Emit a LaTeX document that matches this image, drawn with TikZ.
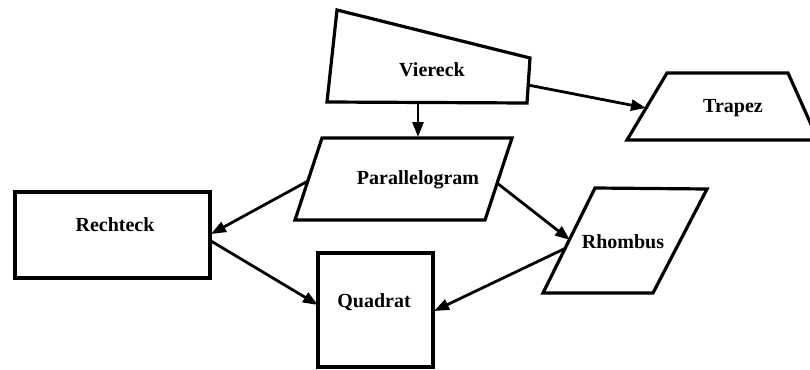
\documentclass[tikz,border=0pt]{standalone}
\usepackage{fontspec}
\setmainfont{Liberation Serif}
\usetikzlibrary{arrows.meta}
\begin{document}
\begin{tikzpicture}[x=1pt,y=-1pt,
  shapeline/.style={line width=3.2pt,line join=miter},
  conn/.style={line width=2.8pt,-{Triangle[length=15pt,width=11pt]}},
  lbl/.style={font=\fontsize{20}{24}\selectfont\bfseries,inner sep=0pt}]
\clip (0,0) rectangle (810,369);
\fill[white] (0,0) rectangle (810,369);
% shapes
\draw[shapeline] (337,10) -- (530,58) -- (527,103) -- (327,102) -- cycle;
\draw[shapeline] (667,73) -- (788,73) -- (818,140) -- (627,140) -- cycle;
\draw[shapeline] (322,138) -- (512,138) -- (485,220) -- (295,220) -- cycle;
\draw[shapeline] (15,192) rectangle (210,278);
\draw[shapeline] (318,253) rectangle (433,367);
\draw[shapeline] (595,188) -- (707,189) -- (653,293) -- (543,293) -- cycle;
% labels
\node[lbl] (viereck) at (432,70) {Viereck};
\node[lbl] (trapez) at (733,108) {Trapez};
\node[lbl] (para) at (418,180) {Parallelogram};
\node[lbl] (recht) at (115,225) {Rechteck};
\node[lbl] (quad) at (374,302) {Quadrat};
\node[lbl] (rhomb) at (623,242) {Rhombus};
% connection points on the outlines
\coordinate (vR) at (528,85);
\coordinate (vB) at (418,103);
\coordinate (tL) at (646,108);
\coordinate (pT) at (418,137);
\coordinate (pL) at (308,181);
\coordinate (pR) at (497,183);
\coordinate (rR1) at (211,234);
\coordinate (rR2) at (211,241);
\coordinate (qL) at (318,305);
\coordinate (qR) at (434,311);
\coordinate (hL1) at (570,240);
\coordinate (hL2) at (566,248);
% connectors
\draw[conn] (vR) -- (tL);
\draw[conn] (vB) -- (pT);
\draw[conn] (pL) -- (rR1);
\draw[conn] (rR2) -- (qL);
\draw[conn] (pR) -- (hL1);
\draw[conn] (hL2) -- (qR);
\end{tikzpicture}
\end{document}
